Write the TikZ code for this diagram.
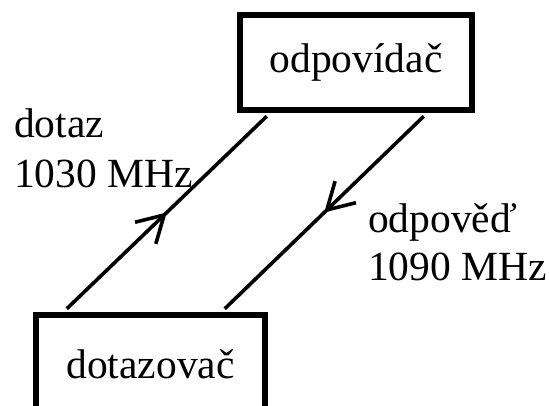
\documentclass[tikz,border=0pt]{standalone}
\usepackage{fontspec}
\setmainfont{Liberation Serif}
\usetikzlibrary{arrows.meta,decorations.markings,calc}
\begin{document}
\begin{tikzpicture}[x=1pt,y=-1pt,
  box/.style={draw,line width=6.5pt,inner sep=0pt,font=\fontsize{41.5}{41.5}\selectfont},
  lbl/.style={anchor=base west,inner sep=0pt,font=\fontsize{41.5}{41.5}\selectfont},
  link/.style={line width=3.6pt,postaction={decorate},decoration={markings,
     mark=at position 0.5 with {\arrow{Straight Barb[length=26pt,width=30pt,line width=3.6pt]}}}}]
\useasboundingbox (0,0) rectangle (549,405);
\clip (0,0) rectangle (549,405);
\node[box,minimum width=232pt,minimum height=95pt] (odp) at (356,62.5) {odpovídač};
\node[box,minimum width=229pt,minimum height=98pt] (dot) at (150.5,364) {dotazovač};
\coordinate (a1) at ($(dot.north west)+(34,-3)$);
\coordinate (a2) at ($(odp.south west)+(30,3)$);
\coordinate (b1) at ($(odp.south west)+(187,3)$);
\coordinate (b2) at ($(dot.north west)+(192,-3)$);
\draw[link] (a1) -- (a2);
\draw[link] (b1) -- (b2);
\node[lbl] (l1) at (14,137) {dotaz};
\node[lbl] (l2) at (14,187) {1030 MHz};
\node[lbl] (l3) at (368,232) {odpověď};
\node[lbl] (l4) at (368,280) {1090 MHz};
\end{tikzpicture}
\end{document}
